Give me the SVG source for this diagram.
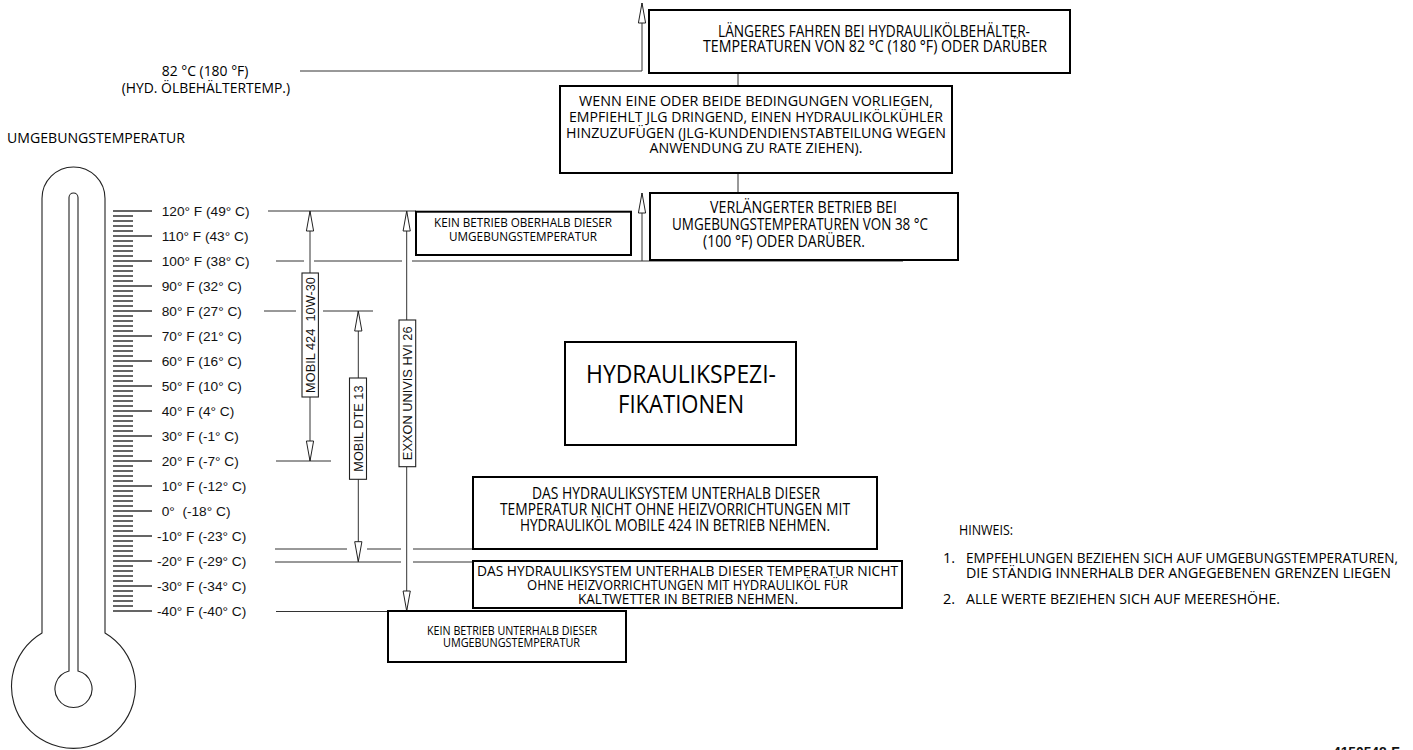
<svg xmlns="http://www.w3.org/2000/svg" width="1413" height="750" viewBox="0 0 1413 750">
  <style>
    .t { font-family: "Open Sans", "Noto Sans", sans-serif; fill: #000; }
    .s { font-family: "Liberation Sans", Arial, sans-serif; font-size: 13.7px; fill: #111; }
    .v { font-family: "Liberation Sans", Arial, sans-serif; font-size: 12.8px; fill: #111; text-anchor: middle; }
    .box { fill: #fff; stroke: #000; stroke-width: 2; }
    .tag { fill: #fff; stroke: #222; stroke-width: 1.1; }
    .ln { stroke: #333; stroke-width: 1; fill: none; }
    .thermo { stroke: #222; stroke-width: 1.1; fill: none; }
    .tick { stroke: #333; stroke-width: 1.4; fill: none; }
  </style>
  <defs>
    <marker id="open" viewBox="0 0 20 8" markerWidth="20" markerHeight="8" refX="20" refY="4" orient="auto" markerUnits="userSpaceOnUse" overflow="visible">
      <path d="M0,0.4 L20,4 L0,7.6 Z" fill="#fff" stroke="#222" stroke-width="1"/>
    </marker>
  </defs>
  <rect width="1413" height="750" fill="#fff"/>

  <!-- thermometer outline, bore and scale -->
  <g id="thermometer">
    <path class="thermo" d="M42,633 V198.5 A31.5,31.5 0 0 1 105,198.5 V633 A62,62 0 1 1 42,633 Z"/>
    <path class="thermo" d="M69,671 V197.5 A4.5,4.5 0 0 1 78,197.5 V671 A18.5,18.5 0 1 1 69,671 Z"/>
    <path class="tick" d="M113 211H152M113 236H152M113 261H152M113 286H152M113 311H152M113 336H152M113 361H152M113 386H152M113 411H152M113 436H152M113 461H152M113 486H152M113 511H152M113 536H152M113 561H152M113 586H152M113 611H152"/>
    <path class="tick" d="M113 216H133M113 221H133M113 226H133M113 231H133M113 241H133M113 246H133M113 251H133M113 256H133M113 266H133M113 271H133M113 276H133M113 281H133M113 291H133M113 296H133M113 301H133M113 306H133M113 316H133M113 321H133M113 326H133M113 331H133M113 341H133M113 346H133M113 351H133M113 356H133M113 366H133M113 371H133M113 376H133M113 381H133M113 391H133M113 396H133M113 401H133M113 406H133M113 416H133M113 421H133M113 426H133M113 431H133M113 441H133M113 446H133M113 451H133M113 456H133M113 466H133M113 471H133M113 476H133M113 481H133M113 491H133M113 496H133M113 501H133M113 506H133M113 516H133M113 521H133M113 526H133M113 531H133M113 541H133M113 546H133M113 551H133M113 556H133M113 566H133M113 571H133M113 576H133M113 581H133M113 591H133M113 596H133M113 601H133M113 606H133"/>
  </g>

  <g id="scale-labels">
    <text class="s" x="161.7" y="216">120° F (49° C)</text>
    <text class="s" x="161.7" y="241">110° F (43° C)</text>
    <text class="s" x="161.7" y="266">100° F (38° C)</text>
    <text class="s" x="161.7" y="291">90° F (32° C)</text>
    <text class="s" x="161.7" y="316">80° F (27° C)</text>
    <text class="s" x="161.7" y="341">70° F (21° C)</text>
    <text class="s" x="161.7" y="366">60° F (16° C)</text>
    <text class="s" x="161.7" y="391">50° F (10° C)</text>
    <text class="s" x="161.7" y="416">40° F (4° C)</text>
    <text class="s" x="161.7" y="441">30° F (-1° C)</text>
    <text class="s" x="161.7" y="466">20° F (-7° C)</text>
    <text class="s" x="161.7" y="491">10° F (-12° C)</text>
    <text class="s" x="161.7" y="516" xml:space="preserve">0°  (-18° C)</text>
    <text class="s" x="157" y="541">-10° F (-23° C)</text>
    <text class="s" x="157" y="566">-20° F (-29° C)</text>
    <text class="s" x="157" y="591">-30° F (-34° C)</text>
    <text class="s" x="157" y="616">-40° F (-40° C)</text>
  </g>

  <g id="titles">
    <text class="t" font-size="15" x="161.7" y="76" textLength="86.7" lengthAdjust="spacingAndGlyphs">82 °C (180 °F)</text>
    <text class="t" font-size="15" x="121.7" y="93.3" textLength="168.3" lengthAdjust="spacingAndGlyphs">(HYD. ÖLBEHÄLTERTEMP.)</text>
    <text class="t" font-size="15" x="7" y="143.3" textLength="178" lengthAdjust="spacingAndGlyphs">UMGEBUNGSTEMPERATUR</text>
  </g>

  <!-- reference lines, range arrows and links between boxes -->
  <g id="connectors">
    <path class="ln" d="M300 71H642"/>
    <path class="ln" d="M268 211H416"/>
    <path class="ln" d="M276 261H304M314 261H402M412 261H903"/>
    <path class="ln" d="M264 311H296M323 311H373"/>
    <path class="ln" d="M276 461H331"/>
    <path class="ln" d="M275 549H347M367 549H401M413 549H473"/>
    <path class="ln" d="M275 562H401M413 562H473"/>
    <path class="ln" d="M276 611.5H388"/>
    <path class="ln" d="M738 73V86M738 173V193"/>
    <line class="ln" x1="642" y1="71" x2="642" y2="3" marker-end="url(#open)"/>
    <line class="ln" x1="642" y1="261" x2="642" y2="193" marker-end="url(#open)"/>
    <line class="ln" x1="310" y1="273" x2="310" y2="211" marker-end="url(#open)"/>
    <line class="ln" x1="310" y1="397" x2="310" y2="461" marker-end="url(#open)"/>
    <line class="ln" x1="358.3" y1="378" x2="358.3" y2="311" marker-end="url(#open)"/>
    <line class="ln" x1="358.3" y1="479" x2="358.3" y2="561.7" marker-end="url(#open)"/>
    <line class="ln" x1="406.7" y1="320" x2="406.7" y2="211" marker-end="url(#open)"/>
    <line class="ln" x1="406.7" y1="467" x2="406.7" y2="611" marker-end="url(#open)"/>
  </g>

  <g id="oil-mobil-424">
    <rect class="tag" x="302" y="273" width="16.4" height="124"/>
    <text class="v" transform="translate(310.2,335) rotate(-90)" y="4.6" xml:space="preserve">MOBIL 424  10W-30</text>
  </g>
  <g id="oil-mobil-dte-13">
    <rect class="tag" x="349.5" y="378" width="17" height="101.3"/>
    <text class="v" transform="translate(358,428.6) rotate(-90)" y="4.6">MOBIL DTE 13</text>
  </g>
  <g id="oil-exxon-univis">
    <rect class="tag" x="399" y="320" width="16.7" height="146.7"/>
    <text class="v" transform="translate(407.3,393.3) rotate(-90)" y="4.6">EXXON UNIVIS HVI 26</text>
  </g>

  <g id="note-reservoir-temp">
    <rect class="box" x="649" y="10" width="421" height="63"/>
    <text class="t" font-size="15.5" x="718" y="37" textLength="312" lengthAdjust="spacingAndGlyphs">LÄNGERES FAHREN BEI HYDRAULIKÖLBEHÄLTER-</text>
    <text class="t" font-size="15.5" x="703" y="52" textLength="344" lengthAdjust="spacingAndGlyphs">TEMPERATUREN VON 82 °C (180 °F) ODER DARÜBER</text>
  </g>

  <g id="note-cooler">
    <rect class="box" x="560" y="86" width="392" height="87"/>
    <text class="t" font-size="15" x="756" y="105.5" text-anchor="middle" textLength="354" lengthAdjust="spacingAndGlyphs">WENN EINE ODER BEIDE BEDINGUNGEN VORLIEGEN,</text>
    <text class="t" font-size="15" x="756" y="121.5" text-anchor="middle" textLength="374" lengthAdjust="spacingAndGlyphs">EMPFIEHLT JLG DRINGEND, EINEN HYDRAULIKÖLKÜHLER</text>
    <text class="t" font-size="15" x="756" y="137.5" text-anchor="middle" textLength="380" lengthAdjust="spacingAndGlyphs">HINZUZUFÜGEN (JLG-KUNDENDIENSTABTEILUNG WEGEN</text>
    <text class="t" font-size="15" x="756" y="153" text-anchor="middle" textLength="213" lengthAdjust="spacingAndGlyphs">ANWENDUNG ZU RATE ZIEHEN).</text>
  </g>

  <g id="note-ambient-38">
    <rect class="box" x="650" y="193" width="308" height="67"/>
    <text class="t" font-size="15.5" x="710" y="213" textLength="187" lengthAdjust="spacingAndGlyphs">VERLÄNGERTER BETRIEB BEI</text>
    <text class="t" font-size="15.5" x="672" y="230" textLength="256" lengthAdjust="spacingAndGlyphs">UMGEBUNGSTEMPERATUREN VON 38 °C</text>
    <text class="t" font-size="15.5" x="703" y="246.5" textLength="162" lengthAdjust="spacingAndGlyphs">(100 °F) ODER DARÜBER.</text>
  </g>

  <g id="limit-upper">
    <rect class="box" x="416" y="211.7" width="215" height="43.3"/>
    <text class="t" font-size="12.5" x="434" y="227.3" textLength="178" lengthAdjust="spacingAndGlyphs">KEIN BETRIEB OBERHALB DIESER</text>
    <text class="t" font-size="12.5" x="449" y="240.7" textLength="148" lengthAdjust="spacingAndGlyphs">UMGEBUNGSTEMPERATUR</text>
  </g>

  <g id="title-box">
    <rect class="box" x="565" y="342" width="231" height="103"/>
    <text class="t" font-size="26" x="681" y="382.7" text-anchor="middle" textLength="190" lengthAdjust="spacingAndGlyphs">HYDRAULIKSPEZI-</text>
    <text class="t" font-size="26" x="681" y="413.3" text-anchor="middle" textLength="126" lengthAdjust="spacingAndGlyphs">FIKATIONEN</text>
  </g>

  <g id="note-mobil-424">
    <rect class="box" x="473" y="477" width="404" height="72"/>
    <text class="t" font-size="15.5" x="532" y="499.3" textLength="288" lengthAdjust="spacingAndGlyphs">DAS HYDRAULIKSYSTEM UNTERHALB DIESER</text>
    <text class="t" font-size="15.5" x="500" y="515" textLength="350" lengthAdjust="spacingAndGlyphs">TEMPERATUR NICHT OHNE HEIZVORRICHTUNGEN MIT</text>
    <text class="t" font-size="15.5" x="520" y="530.7" textLength="310" lengthAdjust="spacingAndGlyphs">HYDRAULIKÖL MOBILE 424 IN BETRIEB NEHMEN.</text>
  </g>

  <g id="note-cold-weather">
    <rect class="box" x="473" y="561" width="429" height="47"/>
    <text class="t" font-size="14.5" x="477" y="576" textLength="421" lengthAdjust="spacingAndGlyphs">DAS HYDRAULIKSYSTEM UNTERHALB DIESER TEMPERATUR NICHT</text>
    <text class="t" font-size="14.5" x="527" y="590" textLength="321" lengthAdjust="spacingAndGlyphs">OHNE HEIZVORRICHTUNGEN MIT HYDRAULIKÖL FÜR</text>
    <text class="t" font-size="14.5" x="578" y="604" textLength="220" lengthAdjust="spacingAndGlyphs">KALTWETTER IN BETRIEB NEHMEN.</text>
  </g>

  <g id="limit-lower">
    <rect class="box" x="388" y="611" width="238" height="51"/>
    <text class="t" font-size="12.5" x="427" y="635" textLength="170" lengthAdjust="spacingAndGlyphs">KEIN BETRIEB UNTERHALB DIESER</text>
    <text class="t" font-size="12.5" x="443" y="647.3" textLength="137" lengthAdjust="spacingAndGlyphs">UMGEBUNGSTEMPERATUR</text>
  </g>

  <g id="notes">
    <text class="t" font-size="14.5" x="959" y="535" textLength="54" lengthAdjust="spacingAndGlyphs">HINWEIS:</text>
    <text class="t" font-size="14.5" x="943" y="563">1.</text>
    <text class="t" font-size="14.5" x="966" y="563" textLength="432" lengthAdjust="spacingAndGlyphs">EMPFEHLUNGEN BEZIEHEN SICH AUF UMGEBUNGSTEMPERATUREN,</text>
    <text class="t" font-size="14.5" x="966" y="577.5" textLength="425" lengthAdjust="spacingAndGlyphs">DIE STÄNDIG INNERHALB DER ANGEGEBENEN GRENZEN LIEGEN</text>
    <text class="t" font-size="14.5" x="943" y="604">2.</text>
    <text class="t" font-size="14.5" x="966" y="604" textLength="314" lengthAdjust="spacingAndGlyphs">ALLE WERTE BEZIEHEN SICH AUF MEERESHÖHE.</text>
  </g>

  <text id="drawing-number" x="1333" y="757" font-family="Liberation Sans, Arial, sans-serif" font-weight="bold" font-size="13.8" fill="#111">4150548-F</text>
</svg>
